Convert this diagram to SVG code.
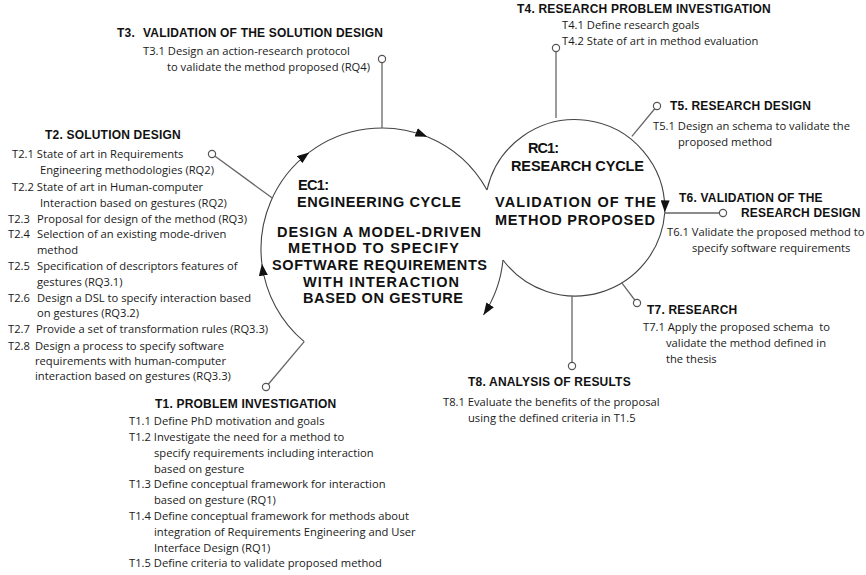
<svg xmlns="http://www.w3.org/2000/svg" width="866" height="575" viewBox="0 0 866 575">
<style>
.h{font-family:"Liberation Sans",Arial,sans-serif;font-weight:bold;font-size:12px;letter-spacing:0.2px;fill:#111}
.b{font-family:"Open Sans","Noto Sans",sans-serif;font-size:11.2px;fill:#1a1a1a}
.c{font-family:"Liberation Sans",Arial,sans-serif;font-weight:bold;font-size:14.5px;fill:#111}
.arc{fill:none;stroke:#444;stroke-width:1.1}
.ln{fill:none;stroke:#666;stroke-width:1.3}
.dot{fill:#fff;stroke:#555;stroke-width:1.2}
</style>
<defs>
<marker id="arr" markerUnits="userSpaceOnUse" markerWidth="12" markerHeight="9" viewBox="0 0 12 9" refX="12" refY="4.5" orient="auto"><path d="M0,0 L12,4.5 L0,9 z" fill="#111"/></marker>
</defs>
<rect width="866" height="575" fill="#fff"/>
<g id="connectors">
<path class="arc" d="M304.2,341.7 A121,121 0 0 1 261.9,263.7" marker-end="url(#arr)"/>
<path class="arc" d="M261.9,263.7 A121,121 0 0 1 309.2,152.4" marker-end="url(#arr)"/>
<path class="arc" d="M309.2,152.4 A121,121 0 0 1 427.3,136.8" marker-end="url(#arr)"/>
<path class="arc" d="M427.3,136.8 A121,121 0 0 1 487,190"/>
<path class="arc" d="M503,260 A121,121 0 0 1 483.5,314.9" marker-end="url(#arr)"/>
<path class="arc" d="M487,190 A90,90 0 0 1 664.8,212.3" marker-end="url(#arr)"/>
<path class="arc" d="M664.8,212.3 A90,90 0 0 1 503,260"/>
<line class="ln" x1="382" y1="128" x2="382" y2="59"/>
<line class="ln" x1="272.3" y1="198.1" x2="212" y2="154"/>
<line class="ln" x1="304.2" y1="341.7" x2="266" y2="387"/>
<line class="ln" x1="556" y1="118" x2="556" y2="48"/>
<line class="ln" x1="631.9" y1="136.3" x2="657" y2="106"/>
<line class="ln" x1="664.7" y1="213" x2="723" y2="213"/>
<line class="ln" x1="621.8" y1="282.9" x2="637" y2="303"/>
<line class="ln" x1="572" y1="296" x2="572" y2="366"/>
<circle class="dot" cx="382" cy="59" r="3.6"/>
<circle class="dot" cx="212" cy="154" r="3.6"/>
<circle class="dot" cx="266" cy="387" r="3.6"/>
<circle class="dot" cx="556" cy="48" r="3.6"/>
<circle class="dot" cx="657" cy="106" r="3.6"/>
<circle class="dot" cx="723" cy="213" r="3.6"/>
<circle class="dot" cx="637" cy="303" r="3.6"/>
<circle class="dot" cx="572" cy="366" r="3.6"/>
</g>
<g id="ec1">
<text class="c" x="298" y="190" textLength="31" lengthAdjust="spacing">EC1:</text>
<text class="c" x="297" y="207" textLength="164" lengthAdjust="spacing">ENGINEERING CYCLE</text>
<text class="c" x="277" y="237" textLength="204" lengthAdjust="spacing">DESIGN A MODEL-DRIVEN</text>
<text class="c" x="288" y="253" textLength="171" lengthAdjust="spacing">METHOD TO SPECIFY</text>
<text class="c" x="272" y="270" textLength="215" lengthAdjust="spacing">SOFTWARE REQUIREMENTS</text>
<text class="c" x="303" y="287" textLength="156" lengthAdjust="spacing">WITH INTERACTION</text>
<text class="c" x="303" y="303" textLength="160" lengthAdjust="spacing">BASED ON GESTURE</text>
</g>
<g id="rc1">
<text class="c" x="528" y="153" textLength="31" lengthAdjust="spacing">RC1:</text>
<text class="c" x="511" y="171" textLength="133" lengthAdjust="spacing">RESEARCH CYCLE</text>
<text class="c" x="495" y="207" textLength="161" lengthAdjust="spacing">VALIDATION OF THE</text>
<text class="c" x="495" y="225" textLength="160" lengthAdjust="spacing">METHOD PROPOSED</text>
</g>
<g id="t1">
<text class="h" x="155" y="408">T1. PROBLEM INVESTIGATION</text>
<text class="b" x="129" y="425">T1.1 Define PhD motivation and goals</text>
<text class="b" x="129" y="441">T1.2 Investigate the need for a method to</text>
<text class="b" x="154" y="457">specify requirements including interaction</text>
<text class="b" x="154" y="473">based on gesture</text>
<text class="b" x="129" y="488">T1.3 Define conceptual framework for interaction</text>
<text class="b" x="154" y="504">based on gesture (RQ1)</text>
<text class="b" x="129" y="520">T1.4 Define conceptual framework for methods about</text>
<text class="b" x="154" y="536">integration of Requirements Engineering and User</text>
<text class="b" x="154" y="552">Interface Design (RQ1)</text>
<text class="b" x="129" y="567">T1.5 Define criteria to validate proposed method</text>
</g>
<g id="t2">
<text class="h" x="45" y="139">T2. SOLUTION DESIGN</text>
<text class="b" x="12" y="158">T2.1 State of art in Requirements</text>
<text class="b" x="40" y="174">Engineering methodologies (RQ2)</text>
<text class="b" x="12" y="191">T2.2 State of art in Human-computer</text>
<text class="b" x="40" y="207">Interaction based on gestures (RQ2)</text>
<text class="b" x="8" y="223">T2.3<tspan x="37">Proposal for design of the method (RQ3)</tspan></text>
<text class="b" x="8" y="238">T2.4<tspan x="37">Selection of an existing mode-driven</tspan></text>
<text class="b" x="37" y="254">method</text>
<text class="b" x="8" y="270">T2.5<tspan x="37">Specification of descriptors features of</tspan></text>
<text class="b" x="37" y="286">gestures (RQ3.1)</text>
<text class="b" x="8" y="302">T2.6<tspan x="37">Design a DSL to specify interaction based</tspan></text>
<text class="b" x="37" y="317">on gestures (RQ3.2)</text>
<text class="b" x="8" y="333">T2.7<tspan x="36">Provide a set of transformation rules (RQ3.3)</tspan></text>
<text class="b" x="8" y="350">T2.8<tspan x="35">Design a process to specify software</tspan></text>
<text class="b" x="35" y="365">requirements with human-computer</text>
<text class="b" x="35" y="380">interaction based on gestures (RQ3.3)</text>
</g>
<g id="t3">
<text class="h" x="117" y="37">T3.<tspan x="143">VALIDATION OF THE SOLUTION DESIGN</tspan></text>
<text class="b" x="143" y="55">T3.1 Design an action-research protocol</text>
<text class="b" x="167" y="71">to validate the method proposed (RQ4)</text>
</g>
<g id="t4">
<text class="h" x="517" y="13">T4. RESEARCH PROBLEM INVESTIGATION</text>
<text class="b" x="562" y="29">T4.1 Define research goals</text>
<text class="b" x="562" y="45">T4.2 State of art in method evaluation</text>
</g>
<g id="t5">
<text class="h" x="670" y="110">T5. RESEARCH DESIGN</text>
<text class="b" x="653" y="130">T5.1 Design an schema to validate the</text>
<text class="b" x="678" y="146">proposed method</text>
</g>
<g id="t6">
<text class="h" x="679" y="202">T6. VALIDATION OF THE</text>
<text class="h" x="741" y="217">RESEARCH DESIGN</text>
<text class="b" x="667" y="236">T6.1 Validate the proposed method to</text>
<text class="b" x="692" y="252">specify software requirements</text>
</g>
<g id="t7">
<text class="h" x="647" y="314">T7. RESEARCH</text>
<text class="b" x="643" y="331" xml:space="preserve">T7.1 Apply the proposed schema  to</text>
<text class="b" x="666" y="347">validate the method defined in</text>
<text class="b" x="666" y="363">the thesis</text>
</g>
<g id="t8">
<text class="h" x="468" y="386">T8. ANALYSIS OF RESULTS</text>
<text class="b" x="443" y="406">T8.1 Evaluate the benefits of the proposal</text>
<text class="b" x="468" y="422">using the defined criteria in T1.5</text>
</g>
</svg>
